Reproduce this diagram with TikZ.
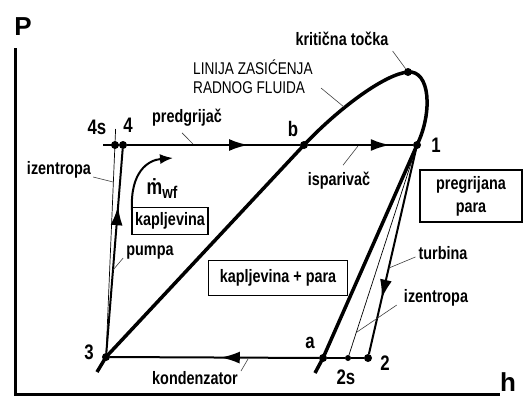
\documentclass[tikz,border=0pt]{standalone}
\usepackage{fontspec}
\setmainfont{Liberation Sans}
\newfontfamily\condsans[FakeStretch=0.8]{Liberation Sans}
\usetikzlibrary{arrows.meta,decorations.markings}

\tikzset{
  dot/.style={circle,fill=black,inner sep=0pt,minimum size=8pt},
  smalldot/.style={circle,fill=black,inner sep=0pt,minimum size=6pt},
  lbl/.style={font=\condsans\fontsize{18}{23}\selectfont\bfseries,inner sep=1pt},
  ptlbl/.style={font=\condsans\fontsize{21}{21}\selectfont\bfseries,inner sep=0pt},
  axlbl/.style={font=\fontsize{26}{26}\selectfont\bfseries,inner sep=0pt},
  boxlbl/.style={lbl,draw,line width=1.2pt},
  leader/.style={line width=0.6pt,draw=black!75},
  cycleline/.style={line width=2pt},
  thinline/.style={line width=0.7pt},
  midarrow/.style={postaction={decorate},decoration={markings,
    mark=at position #1 with {\arrow{Latex[length=19pt,width=12pt]}}}},
}

\begin{document}
\begin{tikzpicture}[x=1pt,y=-1pt]
\useasboundingbox (0,0) rectangle (523,399);

% axes
\draw[line width=3pt] (15,48) -- (15,394) -- (500,394);
\node[axlbl] (lP) at (23,27) {P};
\node[axlbl] (lh) at (508,382) {h};

% state points
\node[dot] (n1) at (417,145) {};
\node[dot] (n2) at (368,358) {};
\node[smalldot] (n2s) at (348,358) {};
\node[dot] (n3) at (106,357) {};
\node[dot] (n4) at (123,145) {};
\node[dot] (n4s) at (115,145) {};
\node[dot] (nb) at (304,145) {};
\node[dot] (na) at (323,358) {};
\node[dot] (crit) at (408,72) {};
\coordinate (sat0) at (97,372);
\coordinate (sat1) at (315,373);
\coordinate (h0) at (103,145);
\coordinate (t4s) at (115.6,129);

% saturation line
\draw[line width=3.5pt,line join=round] (sat0) -- (n3.center) -- (nb.center)
  .. controls (339,108) and (385,74) .. (crit.center)
  .. controls (430,70) and (433,112) .. (n1.center) -- (na.center) -- (sat1);

% cycle
\draw[cycleline] (h0) -- (n4);
\draw[cycleline,midarrow=0.70] (n4) -- (nb);
\draw[cycleline,midarrow=0.78] (nb) -- (n1);
\draw[cycleline,midarrow=0.73] (n1) -- (n2);
\draw[cycleline] (n2) -- (n2s) -- (na);
\draw[cycleline,midarrow=0.47] (na) -- (n3);
\draw[cycleline,midarrow=0.72] (n3) -- (n4);

% isentropes
\draw[thinline] (n3.center) -- (t4s);
\draw[thinline] (n1) -- (n2s);

% point labels
\node[ptlbl] (l1) at (436,145) {1};
\node[ptlbl] (l2) at (385,363) {2};
\node[ptlbl] (l2s) at (346,377) {2s};
\node[ptlbl] (l3) at (89,352) {3};
\node[ptlbl] (l4) at (128,125) {4};
\node[ptlbl] (l4s) at (97,127) {4s};
\node[ptlbl] (lb) at (293,129) {b};
\node[ptlbl] (la) at (310,343) {a};

% mass flow
\draw[line width=2pt,-{Latex[length=13pt,width=10pt]}] (132,210) .. controls (130,172) and (148,160) .. (173,158);
\node[font=\condsans\fontsize{22}{22}\selectfont\bfseries,inner sep=0pt] (lmwf) at (162,189)
  {\.{m}\raisebox{-4pt}{\fontsize{17}{17}\selectfont wf}};

% regions
\node[boxlbl,minimum width=76pt,minimum height=27pt] (bkap) at (170,221) {kapljevina};
\node[boxlbl,minimum width=139pt,minimum height=35pt] (bmix) at (278,278) {kapljevina + para};
\node[boxlbl,minimum width=102pt,minimum height=52pt,align=center] (bsup) at (471,196) {pregrijana\\para};

% labels with leaders
\node[lbl] (lkrit) at (342,39) {kritična točka};
\draw[leader] (lkrit.south east) ++(3,4) -- (crit);
\node[lbl,font=\condsans\fontsize{17}{19}\selectfont,align=left,anchor=west] (llin) at (192,77) {LINIJA ZASIĆENJA\\RADNOG FLUIDA};
\draw[leader] (321,88) -- (344,107);
\node[lbl] (lpre) at (187,118) {predgrijač};
\draw[leader] (lpre.south) ++(-5,5) -- (193,144);
\node[lbl] (lisp) at (339,181) {isparivač};
\draw[leader] (lisp.north) ++(4,-6) -- (358,146);
\node[lbl] (lizl) at (59,170) {izentropa};
\draw[leader] (lizl.east) ++(1,7) -- (113,182);
\node[lbl] (lpum) at (150,253) {pumpa};
\draw[leader] (lpum.west) ++(-2,5) -- (113,270);
\node[lbl] (ltur) at (443,253) {turbina};
\draw[leader] (ltur.west) ++(-2,4) -- (389,268);
\node[lbl] (lizr) at (436,298) {izentropa};
\draw[leader] (lizr.west) ++(-6,7) -- (357,332);
\node[lbl] (lkon) at (195,378) {kondenzator};
\draw[leader] (lkon.east) ++(2,-7) -- (248,359);
\end{tikzpicture}
\end{document}
